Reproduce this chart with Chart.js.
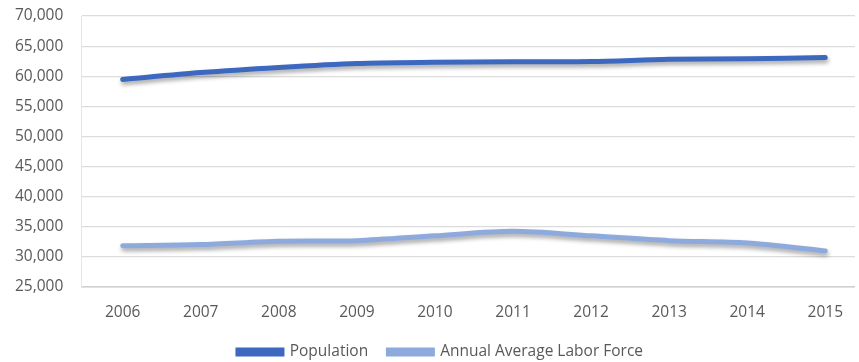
<!DOCTYPE html>
<html lang="en">
<head>
    <meta charset="UTF-8">
    <title>Population and Labor Force</title>
    <script src="https://cdn.jsdelivr.net/npm/chart.js"></script>
    <style>
        html, body {
            margin: 0;
            padding: 0;
            background: #fff;
            overflow: hidden;
        }
        #chartBox {
            width: 859px;
            height: 362px;
        }
    </style>
</head>
<body>

<div id="chartBox">
    <canvas id="chartCanvas"></canvas>
</div>

<script>
    // Data
    const years = [2006, 2007, 2008, 2009, 2010, 2011, 2012, 2013, 2014, 2015];
    const population = [59450, 60600, 61450, 62100, 62300, 62400, 62450, 62800, 62900, 63100];
    const laborForce = [31850, 32050, 32600, 32700, 33500, 34250, 33500, 32700, 32300, 31000];

    const font = { family: '"Open Sans", sans-serif', size: 15.5 };

    const toPoints = values => years.map((yr, i) => ({ x: yr, y: values[i] }));

    // soft drop shadow under each line
    const lineShadow = {
        id: 'lineShadow',
        beforeDatasetDraw(chart) {
            const ctx = chart.ctx;
            ctx.save();
            ctx.shadowColor = 'rgba(0, 0, 0, 0.35)';
            ctx.shadowBlur = 4;
            ctx.shadowOffsetX = 1;
            ctx.shadowOffsetY = 3;
        },
        afterDatasetDraw(chart) {
            chart.ctx.restore();
        }
    };

    new Chart(document.getElementById('chartCanvas'), {
        type: 'line',
        data: {
            datasets: [
                {
                    label: 'Population',
                    data: toPoints(population),
                    borderColor: '#3d68c0',
                    backgroundColor: '#3d68c0',
                    borderWidth: 5,
                    borderCapStyle: 'round',
                    tension: 0.3,
                    pointRadius: 0
                },
                {
                    label: 'Annual Average Labor Force',
                    data: toPoints(laborForce),
                    borderColor: '#8eaadc',
                    backgroundColor: '#8eaadc',
                    borderWidth: 5,
                    borderCapStyle: 'round',
                    tension: 0.3,
                    pointRadius: 0
                }
            ]
        },
        options: {
            responsive: true,
            maintainAspectRatio: false,
            animation: false,
            layout: {
                autoPadding: false,
                // negative right padding nudges the legend right of centre
                padding: { left: -3, right: -25, top: 0, bottom: -7.75 }
            },
            scales: {
                x: {
                    type: 'linear',
                    min: 2005.47,
                    max: 2015.38,
                    afterBuildTicks: axis => { axis.ticks = years.map(v => ({ value: v })); },
                    afterFit: axis => { axis.height = 37; },
                    grid: { display: false, drawTicks: false },
                    border: { display: true, color: '#d0d0d0', width: 1.5 },
                    ticks: {
                        color: '#595959',
                        font: font,
                        padding: 16,
                        maxRotation: 0,
                        autoSkip: false,
                        callback: v => String(v)
                    }
                },
                y: {
                    min: 25000,
                    max: 70000,
                    afterFit: axis => { axis.paddingTop = 16; },
                    grid: { color: '#dcdcdc', lineWidth: 1.2, drawTicks: false },
                    border: { display: true, color: '#e6e6e6' },
                    ticks: {
                        stepSize: 5000,
                        color: '#595959',
                        font: font,
                        padding: 18,
                        callback: v => v.toLocaleString('en-US')
                    }
                }
            },
            plugins: {
                legend: {
                    position: 'bottom',
                    labels: {
                        color: '#595959',
                        font: font,
                        boxWidth: 44,
                        boxHeight: 4,
                        padding: 20.25
                    }
                },
                tooltip: { enabled: false }
            }
        },
        plugins: [lineShadow]
    });
</script>

</body>
</html>
